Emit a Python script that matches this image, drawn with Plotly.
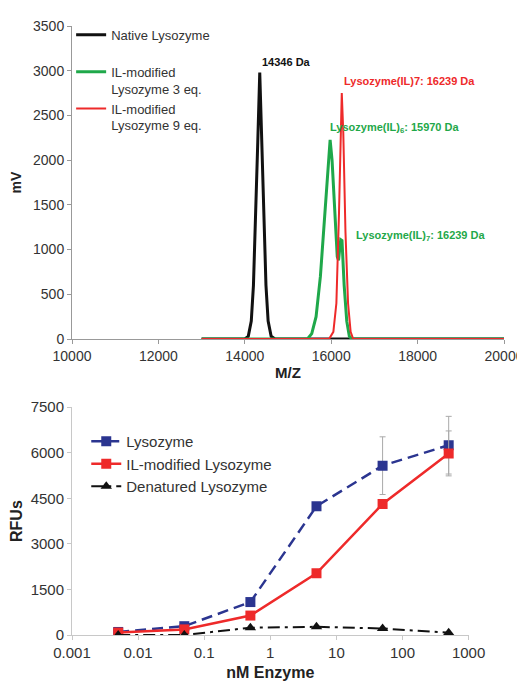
import plotly.graph_objects as go

# ---- Top chart: spectra ----
native_mz = [13000, 14000, 14080, 14150, 14200, 14250, 14300, 14346, 14390, 14440, 14490, 14540, 14610, 14700, 20000]
native_mv = [0, 0, 30, 200, 600, 1300, 2200, 2980, 2200, 1300, 600, 200, 30, 0, 0]

il3_mz = [13000, 15450, 15550, 15650, 15750, 15850, 15930, 15975, 16020, 16080, 16140, 16170, 16220, 16250, 16300, 16360, 16420, 16480, 20000]
il3_mv = [0, 0, 60, 250, 700, 1400, 2000, 2226, 2000, 1400, 920, 880, 1110, 1100, 600, 200, 30, 0, 0]

il9_mz = [13000, 15950, 16050, 16120, 16180, 16220, 16245, 16280, 16330, 16390, 16450, 16510, 20000]
il9_mv = [0, 0, 80, 400, 1400, 2400, 2750, 2300, 1200, 400, 80, 0, 0]

top_xticks = [10000, 12000, 14000, 16000, 18000, 20000]
top_xlabels = ["10000", "12000", "14000", "16000", "18000", "20000"]
top_yticks = [0, 500, 1000, 1500, 2000, 2500, 3000, 3500]

# ---- Bottom chart: activity ----
enzyme_nm = [0.005, 0.05, 0.5, 5, 50, 500]
lyso_rfu = [100, 290, 1085, 4240, 5576, 6250]
lyso_err = [0, 0, 0, 0, 950, 950]
il_rfu = [80, 185, 640, 2030, 4315, 5980]
il_err = [0, 0, 0, 0, 0, 740]
denat_rfu = [0, 0, 240, 270, 215, 75]
bot_xticks = [0.001, 0.01, 0.1, 1, 10, 100, 1000]
bot_xlabels = ["0.001", "0.01", "0.1", "1", "10", "100", "1000"]
bot_yticks = [0, 1500, 3000, 4500, 6000, 7500]

FONT = "Liberation Sans, Arial, sans-serif"
BLACK = "#111111"
GREEN = "#1fa84a"
RED = "#ee2a2a"
NAVY = "#2b3590"
TXT = "#333333"

fig = go.Figure()

fig.add_trace(go.Scatter(x=native_mz, y=native_mv, mode="lines", name="Native Lysozyme<br> ",
                         line=dict(color=BLACK, width=3), xaxis="x", yaxis="y", legend="legend"))
fig.add_trace(go.Scatter(x=il3_mz, y=il3_mv, mode="lines", name="IL-modified<br>Lysozyme 3 eq.",
                         line=dict(color=GREEN, width=3), xaxis="x", yaxis="y", legend="legend"))
fig.add_trace(go.Scatter(x=il9_mz, y=il9_mv, mode="lines", name="IL-modified<br>Lysozyme 9 eq.",
                         line=dict(color=RED, width=2), xaxis="x", yaxis="y", legend="legend"))

fig.add_trace(go.Scatter(x=enzyme_nm, y=lyso_rfu, mode="lines+markers", name="Lysozyme",
                         line=dict(color=NAVY, width=2.5, dash="11px,6px"),
                         marker=dict(symbol="square", size=10, color=NAVY),
                         error_y=dict(type="data", array=lyso_err, color="#aaaaaa", thickness=1, width=3),
                         xaxis="x2", yaxis="y2", legend="legend2"))
fig.add_trace(go.Scatter(x=enzyme_nm, y=il_rfu, mode="lines+markers", name="IL-modified Lysozyme",
                         line=dict(color=RED, width=2.5),
                         marker=dict(symbol="square", size=10, color=RED),
                         error_y=dict(type="data", array=il_err, color="#aaaaaa", thickness=1, width=3),
                         xaxis="x2", yaxis="y2", legend="legend2"))
fig.add_trace(go.Scatter(x=enzyme_nm, y=denat_rfu, mode="lines+markers", name="Denatured Lysozyme",
                         line=dict(color=BLACK, width=2, dash="12px,5px,3px,5px"),
                         marker=dict(symbol="triangle-up", size=10, color=BLACK),
                         xaxis="x2", yaxis="y2", legend="legend2"))


def ax(color, size):
    return dict(showgrid=False, zeroline=False, showline=True, linecolor=color, linewidth=1,
                automargin=False, ticks="outside", tickcolor=color, ticklen=4,
                tickfont=dict(family=FONT, size=size, color=TXT))


# The page body adds an 8px margin, so the figure is 8px smaller and margins shifted.
fig.update_layout(
    width=517, height=673,
    margin=dict(l=64, r=21, t=12, b=46),
    paper_bgcolor="white", plot_bgcolor="white",
    font=dict(family=FONT, color=TXT),
    xaxis=dict(domain=[0, 1], anchor="y", range=[10000, 20000], tickvals=top_xticks, ticktext=top_xlabels,
               title=dict(text="<b>M/Z</b>", font=dict(size=15, color="#222"), standoff=4), **ax("#999999", 14)),
    yaxis=dict(domain=[0.486, 1], anchor="x", range=[0, 3500], tickvals=top_yticks,
               title=dict(text="<b>mV</b>", font=dict(size=14, color="#222"), standoff=8), **ax("#999999", 14)),
    xaxis2=dict(domain=[0, 0.918], anchor="y2", type="log", range=[-3, 3], tickvals=bot_xticks,
                ticktext=bot_xlabels,
                title=dict(text="<b>nM Enzyme</b>", font=dict(size=16, color="#222"), standoff=14),
                **ax("#c8c8c8", 15)),
    yaxis2=dict(domain=[0, 0.374], anchor="x2", range=[0, 7500], tickvals=bot_yticks,
                title=dict(text="<b>RFUs</b>", font=dict(size=16, color="#222"), standoff=5),
                **ax("#c8c8c8", 15)),
    legend=dict(x=-0.002, y=1.01, xanchor="left", yanchor="top", bgcolor="rgba(0,0,0,0)",
                font=dict(family=FONT, size=13, color=TXT), valign="top", tracegroupgap=0),
    legend2=dict(x=0.033, y=0.3447, xanchor="left", yanchor="top", bgcolor="rgba(0,0,0,0)",
                 font=dict(family=FONT, size=15, color=TXT)),
    showlegend=True,
)

ann_font = dict(family=FONT, size=11)
fig.add_annotation(x=14350, y=3100, xref="x", yref="y", text="<b>14346 Da</b>", showarrow=False,
                   xanchor="left", yanchor="middle", font=dict(color=BLACK, **ann_font))
fig.add_annotation(x=16256, y=2880, xref="x", yref="y", text="<b>Lysozyme(IL)7: 16239 Da</b>", showarrow=False,
                   xanchor="left", yanchor="middle", font=dict(color=RED, **ann_font))
fig.add_annotation(x=15930, y=2360, xref="x", yref="y", text="<b>Lysozyme(IL)<sub>6</sub>: 15970 Da</b>", showarrow=False,
                   xanchor="left", yanchor="middle", font=dict(color=GREEN, **ann_font))
fig.add_annotation(x=16535, y=1150, xref="x", yref="y", text="<b>Lysozyme(IL)<sub>7</sub>: 16239 Da</b>", showarrow=False,
                   xanchor="left", yanchor="middle", font=dict(color=GREEN, **ann_font))

fig.write_html("out.html")
